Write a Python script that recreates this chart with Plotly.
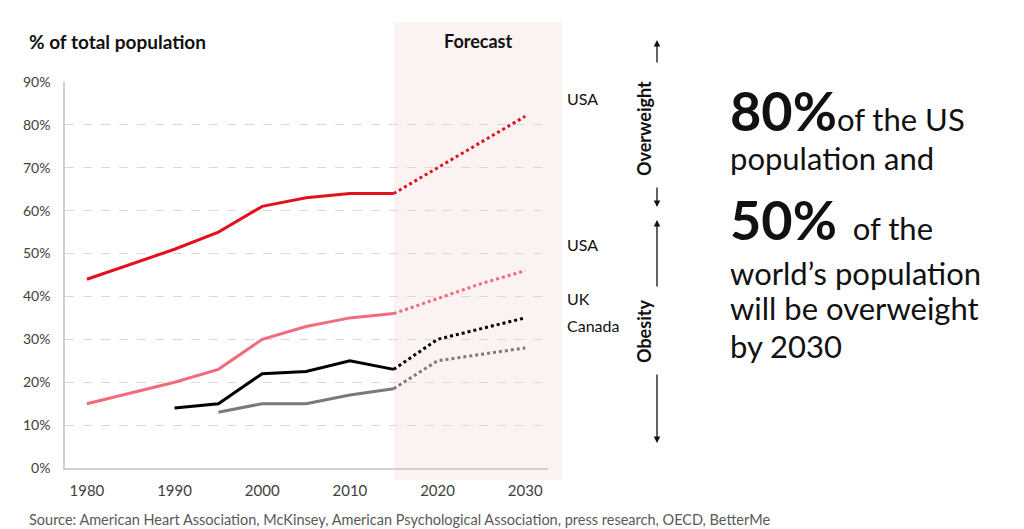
import plotly.graph_objects as go

# historical data (% of total population)
hist_years = [1980, 1985, 1990, 1995, 2000, 2005, 2010, 2015]
usa_overweight = [44, 47.5, 51, 55, 61, 63, 64, 64]
usa_obesity = [15, 17.5, 20, 23, 30, 33, 35, 36]
uk_years = [1990, 1995, 2000, 2005, 2010, 2015]
uk_obesity = [14, 15, 22, 22.5, 25, 23]
ca_years = [1995, 2000, 2005, 2010, 2015]
ca_obesity = [13, 15, 15, 17, 18.5]

# forecast
fc_years = [2015, 2020, 2025, 2030]
usa_overweight_fc = [64, 70, 76, 82]
usa_obesity_fc = [36, 39.5, 43, 46]
uk_obesity_fc = [23, 30, 32.5, 35]
ca_obesity_fc = [18.5, 25, 26.5, 28]

x_ticks = [1980, 1990, 2000, 2010, 2020, 2030]
x_range = [1977.5, 2032.6]

RED = "#E5101F"
PINK = "#F06C79"
BLACK = "#000000"
GREY = "#7A7A7A"
FONT = "Lato, 'Open Sans', sans-serif"

# the page puts the figure 8px in from the top-left corner
OFF = 8
W, H = 1024 - OFF, 529 - OFF
# plot area in screen pixels, used to place the text around the chart
L, R, T, B = 65, 548, 82, 468


def px(x):
    return (x - L) / (R - L)


def py(y):
    return (B - y) / (B - T)


def year_to_paper(yr):
    return (yr - x_range[0]) / (x_range[1] - x_range[0])


fig = go.Figure()

series = [
    (hist_years, usa_overweight, fc_years, usa_overweight_fc, RED),
    (hist_years, usa_obesity, fc_years, usa_obesity_fc, PINK),
    (uk_years, uk_obesity, fc_years, uk_obesity_fc, BLACK),
    (ca_years, ca_obesity, fc_years, ca_obesity_fc, GREY),
]
for hx, hy, fx, fy, col in series:
    fig.add_trace(go.Scatter(x=hx, y=hy, mode="lines",
                             line=dict(color=col, width=3), showlegend=False))
    fig.add_trace(go.Scatter(x=fx, y=fy, mode="lines",
                             line=dict(color=col, width=3, dash="dot"), showlegend=False))

# forecast band
fig.add_shape(type="rect", xref="paper", yref="paper", x0=year_to_paper(fc_years[0]),
              x1=px(562), y0=py(480), y1=py(22), fillcolor="#FBF2F2",
              line_width=0, layer="below")

DARK = "#111111"
annotations = [
    dict(x=px(27), y=py(41), text="<b>% of total population</b>", xanchor="left",
         font=dict(size=19, color=DARK)),
    dict(x=px(478), y=py(41), text="<b>Forecast</b>", xanchor="center",
         font=dict(size=18, color=DARK)),
    dict(x=px(27), y=py(519), text="Source: American Heart Association, McKinsey, "
         "American Psychological Association, press research, OECD, BetterMe",
         xanchor="left", font=dict(size=14.5, color="#595959")),
    dict(x=px(565), y=py(98), text="USA", xanchor="left", font=dict(size=16, color=DARK)),
    dict(x=px(565), y=py(245), text="USA", xanchor="left", font=dict(size=16, color=DARK)),
    dict(x=px(565), y=py(298), text="UK", xanchor="left", font=dict(size=16, color=DARK)),
    dict(x=px(565), y=py(325), text="Canada", xanchor="left", font=dict(size=16, color=DARK)),
    dict(x=px(657), y=py(129), text="<b>Overweight</b>", textangle=-90,
         font=dict(size=18, color=DARK)),
    dict(x=px(657), y=py(332), text="<b>Obesity</b>", textangle=-90,
         font=dict(size=18, color=DARK)),
    dict(x=px(728), y=py(110), xanchor="left",
         text="<b><span style='font-size:54px'>80%</span></b>of the US",
         font=dict(size=31, color=DARK)),
    dict(x=px(728), y=py(158), xanchor="left", text="population and",
         font=dict(size=31, color=DARK)),
    dict(x=px(728), y=py(219), xanchor="left",
         text="<b><span style='font-size:54px'>50%</span></b>  of the",
         font=dict(size=31, color=DARK)),
    dict(x=px(728), y=py(273), xanchor="left", text="world’s population",
         font=dict(size=31, color=DARK)),
    dict(x=px(728), y=py(308), xanchor="left", text="will be overweight",
         font=dict(size=31, color=DARK)),
    dict(x=px(728), y=py(346), xanchor="left", text="by 2030",
         font=dict(size=31, color=DARK)),
]
for a in annotations:
    a.update(xref="paper", yref="paper", showarrow=False, yanchor="middle")
    a["font"]["family"] = FONT
    fig.add_annotation(**a)

# arrows beside the vertical labels (head, tail)
arrows = [((657, 40), (657, 64)), ((657, 207), (657, 186)),
          ((657, 220), (657, 288)), ((657, 443), (657, 373))]
for (hx, hy), (tx, ty) in arrows:
    fig.add_annotation(x=px(hx), y=py(hy), xref="paper", yref="paper", text="",
                       showarrow=True, arrowhead=2, arrowsize=1, arrowwidth=1.3,
                       arrowcolor=DARK, ax=tx - hx, ay=ty - hy)

fig.update_layout(
    width=W, height=H,
    margin=dict(l=L - OFF, r=W + OFF - R, t=T - OFF, b=H + OFF - B),
    plot_bgcolor="rgba(0,0,0,0)", paper_bgcolor="white",
    font=dict(family=FONT, color="#404040"),
)
fig.update_xaxes(range=x_range, tickvals=x_ticks, showgrid=False,
                 showline=True, linecolor="#D0D0D0", linewidth=1.5,
                 tickfont=dict(size=15, color="#404040"), ticks="",
                 ticklabelstandoff=8, zeroline=False)
fig.update_yaxes(range=[0, 90], dtick=10, ticksuffix="%", showgrid=True,
                 gridcolor="#D9D9D9", griddash="dash", gridwidth=1,
                 showline=True, linecolor="#D0D0D0", linewidth=1.5,
                 tickfont=dict(size=14, color="#404040"), ticks="",
                 ticklabelstandoff=10, zeroline=False)

fig.write_html("out.html")
